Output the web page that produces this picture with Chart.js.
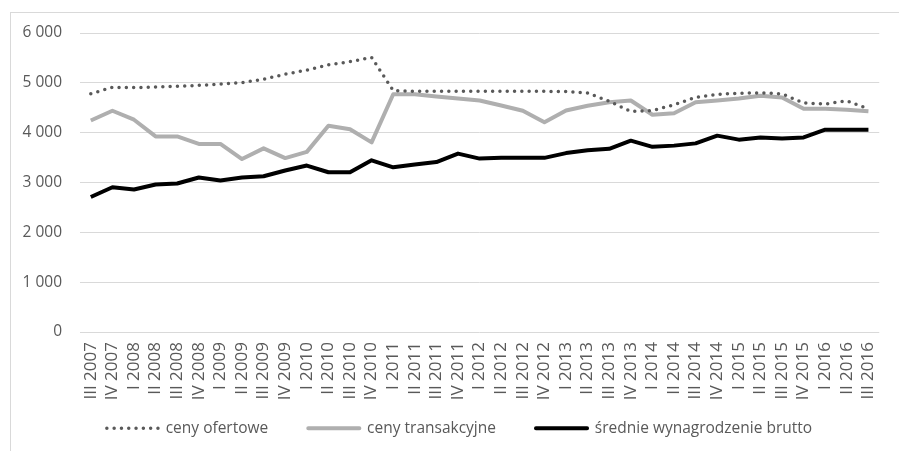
<!DOCTYPE html>
<html>
<head>
<meta charset="utf-8">
<script src="https://cdn.jsdelivr.net/npm/chart.js@4/dist/chart.umd.min.js"></script>
<style>
  html, body { margin: 0; padding: 0; background: #ffffff; overflow: hidden; }
  #wrap { position: relative; width: 899px; height: 451px; }
  #frame { position: absolute; left: 10px; top: 12px; width: 900px; height: 460px;
           border-left: 1px solid #d9d9d9; border-top: 1px solid #d9d9d9; box-sizing: border-box; }
  canvas { position: absolute; left: 0; top: 0; }
</style>
</head>
<body>
<div id="wrap">
  <div id="frame"></div>
  <canvas id="c" width="899" height="451"></canvas>
</div>
<script>
const categories = [
  "III 2007","IV 2007",
  "I 2008","II 2008","III 2008","IV 2008",
  "I 2009","II 2009","III 2009","IV 2009",
  "I 2010","II 2010","III 2010","IV 2010",
  "I 2011","II 2011","III 2011","IV 2011",
  "I 2012","II 2012","III 2012","IV 2012",
  "I 2013","II 2013","III 2013","IV 2013",
  "I 2014","II 2014","III 2014","IV 2014",
  "I 2015","II 2015","III 2015","IV 2015",
  "I 2016","II 2016","III 2016"
];

const cenyOfertowe = [
  4780, 4910, 4905, 4915, 4930, 4950, 4975, 5005, 5070, 5175,
  5255, 5360, 5425, 5510, 4845, 4830, 4830, 4830, 4830, 4830,
  4830, 4830, 4825, 4795, 4630, 4425, 4445, 4560, 4710, 4770,
  4790, 4800, 4780, 4595, 4575, 4640, 4475
];

const cenyTransakcyjne = [
  4245, 4440, 4260, 3925, 3925, 3775, 3775, 3470, 3685, 3490,
  3615, 4140, 4070, 3805, 4770, 4770, 4725, 4685, 4645, 4545,
  4440, 4210, 4445, 4540, 4610, 4645, 4360, 4390, 4610, 4645,
  4685, 4740, 4705, 4480, 4480, 4460, 4430
];

const wynagrodzenie = [
  2710, 2905, 2860, 2960, 2980, 3100, 3040, 3100, 3125, 3240,
  3340, 3205, 3205, 3445, 3305, 3360, 3410, 3580, 3480, 3495,
  3495, 3495, 3590, 3645, 3675, 3840, 3715, 3740, 3785, 3940,
  3860, 3905, 3885, 3905, 4060, 4060, 4060
];

const seriesNames = ["ceny ofertowe", "ceny transakcyjne", "średnie wynagrodzenie brutto"];
const yTicks = [0, 1000, 2000, 3000, 4000, 5000, 6000];

const TEXT = "#595959";
const FONT = "'Open Sans', sans-serif";
const DOT_GAP = 7.3;

function fmt(v) {
  return String(v).replace(/\B(?=(\d{3})+(?!\d))/g, " ");
}

// layout tweaks: let the rotated x labels extend below the axis box,
// and nudge the legend row to match the reference position
const layoutTweak = {
  id: "layoutTweak",
  afterLayout(chart) {
    const x = chart.scales.x;
    x.bottom = chart.height;
    if (chart.legend) {
      chart.legend.left += 16;
      chart.legend.right += 16;
    }
  }
};

new Chart(document.getElementById("c"), {
  type: "line",
  plugins: [layoutTweak],
  data: {
    labels: categories,
    datasets: [
      {
        label: seriesNames[0],
        data: cenyOfertowe,
        borderColor: "#595959",
        backgroundColor: "rgba(0,0,0,0)",
        borderWidth: 3.5,
        borderDash: [0, DOT_GAP],
        borderCapStyle: "round",
        borderJoinStyle: "round",
        pointRadius: 0,
        tension: 0,
        fill: false
      },
      {
        label: seriesNames[1],
        data: cenyTransakcyjne,
        borderColor: "#afafaf",
        backgroundColor: "rgba(0,0,0,0)",
        borderWidth: 4,
        borderJoinStyle: "round",
        pointRadius: 0,
        tension: 0,
        fill: false
      },
      {
        label: seriesNames[2],
        data: wynagrodzenie,
        borderColor: "#000000",
        backgroundColor: "rgba(0,0,0,0)",
        borderWidth: 4,
        borderJoinStyle: "round",
        pointRadius: 0,
        tension: 0,
        fill: false
      }
    ]
  },
  options: {
    responsive: false,
    animation: false,
    devicePixelRatio: 1,
    layout: { padding: { top: 33, right: 12, bottom: 5, left: 0 } },
    plugins: {
      title: { display: false },
      tooltip: { enabled: false },
      legend: {
        display: true,
        position: "bottom",
        labels: {
          usePointStyle: false,
          boxWidth: DOT_GAP * 7,
          boxHeight: 0,
          padding: 40,
          color: TEXT,
          font: { family: FONT, size: 15.5 }
        }
      }
    },
    scales: {
      x: {
        type: "category",
        offset: true,
        grid: { display: false, drawTicks: false },
        border: { display: false },
        ticks: {
          autoSkip: false,
          minRotation: 90,
          maxRotation: 90,
          padding: 10,
          color: TEXT,
          font: { family: FONT, size: 17 }
        },
        afterFit: (s) => { s.height = 48.5; }
      },
      y: {
        min: 0,
        max: 6000,
        afterBuildTicks: (s) => { s.ticks = yTicks.map(v => ({ value: v })); },
        grid: { color: "#d9d9d9", lineWidth: 1, drawTicks: false },
        border: { display: false },
        ticks: {
          padding: 18,
          color: TEXT,
          font: { family: FONT, size: 15.5 },
          callback: (v) => fmt(v)
        },
        afterFit: (s) => { s.width = 80; }
      }
    }
  }
});
</script>
</body>
</html>
